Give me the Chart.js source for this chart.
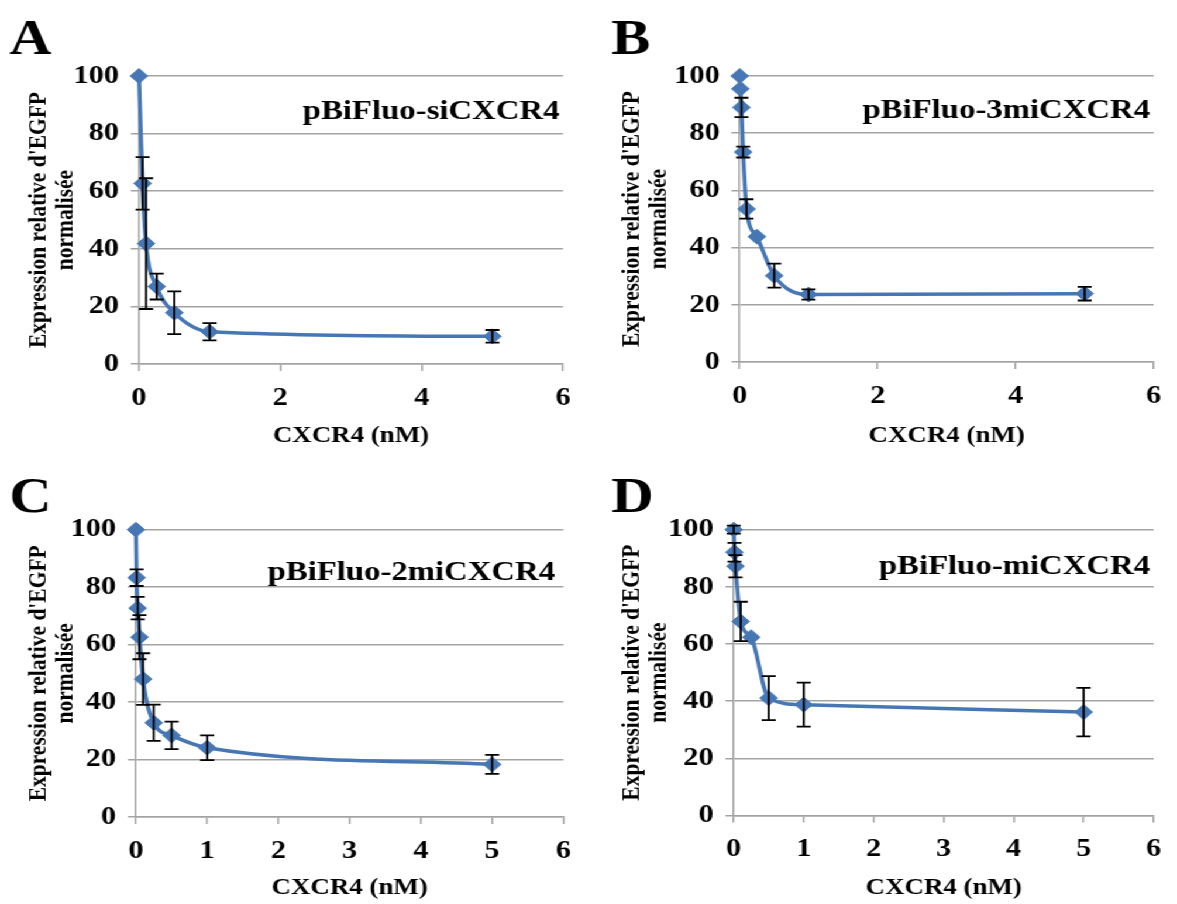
<!DOCTYPE html>
<html><head><meta charset="utf-8">
<script src="https://cdn.jsdelivr.net/npm/chart.js@4.4.1/dist/chart.umd.min.js"></script>
<style>
html,body{margin:0;padding:0;background:#fff;overflow:hidden;width:1177px;height:904px;}
#wrap{position:absolute;left:0;top:0;width:1006px;height:904px;transform:scaleX(1.17);transform-origin:0 0;}
canvas{position:absolute;}
</style></head><body><div id="wrap">
<canvas id="cA" width="500" height="452" style="left:0px;top:0px"></canvas>
<canvas id="cB" width="500" height="452" style="left:504.27px;top:0px"></canvas>
<canvas id="cC" width="500" height="452" style="left:0px;top:452px"></canvas>
<canvas id="cD" width="500" height="452" style="left:504.27px;top:452px"></canvas>
</div>
<script>
// ---- data ----
const xTitle = 'CXCR4 (nM)';
const yTitle = ["Expression relative d'EGFP", 'normalisée'];
const yTicks = [0, 20, 40, 60, 80, 100];

const dosesA = [0, 0.05, 0.1, 0.25, 0.5, 1, 5];
const exprA  = [100, 62.7, 41.8, 26.9, 17.8, 11.2, 9.6];
const errA   = [0, 9.1, 22.7, 4.5, 7.4, 3.0, 2.2];

const dosesB = [0, 0.01, 0.025, 0.05, 0.1, 0.25, 0.5, 1, 5];
const exprB  = [100, 95.5, 89.0, 73.4, 53.5, 43.8, 30.2, 23.6, 23.9];
const errB   = [0, 0, 3.4, 1.9, 3.4, 0, 4.2, 1.8, 2.4];

const dosesC = [0, 0.01, 0.025, 0.05, 0.1, 0.25, 0.5, 1, 5];
const exprC  = [100, 83.3, 72.7, 62.6, 48.0, 32.8, 28.4, 24.1, 18.3];
const errC   = [0, 2.9, 3.9, 7.7, 9.0, 6.3, 4.8, 4.3, 3.3];

const dosesD = [0, 0.01, 0.025, 0.1, 0.25, 0.5, 1, 5];
const exprD  = [100, 92.1, 87.2, 67.9, 62.4, 41.1, 38.8, 36.2];
const errD   = [1.4, 3.3, 3.9, 6.9, 0, 7.7, 7.7, 8.5];

// ---- styling ----
const FAM = '"Liberation Serif", "Times New Roman", serif';
const BLUE = '#4677B4';
const GRID = '#A3A3A3';

const annot = {
  id: 'annot',
  afterDatasetsDraw(chart, args, o) {
    const ctx = chart.ctx, xs = chart.scales.x, ys = chart.scales.y;
    const ds = chart.data.datasets[0];
    ctx.save();
    ctx.strokeStyle = '#000';
    ctx.lineWidth = 1.8;
    ds.data.forEach((p, i) => {
      const e = o.err[i];
      if (!e) return;
      const px = xs.getPixelForValue(p.x);
      const y1 = ys.getPixelForValue(p.y + e), y2 = ys.getPixelForValue(p.y - e);
      ctx.beginPath();
      ctx.moveTo(px, y1); ctx.lineTo(px, y2);
      ctx.moveTo(px - 6, y1); ctx.lineTo(px + 6, y1);
      ctx.moveTo(px - 6, y2); ctx.lineTo(px + 6, y2);
      ctx.stroke();
    });
    ctx.fillStyle = '#000';
    ctx.font = 'bold 28px ' + FAM;
    ctx.textAlign = 'right';
    ctx.textBaseline = 'alphabetic';
    ctx.fillText(o.title, chart.chartArea.right - o.tdx, chart.chartArea.top + o.tdy);
    ctx.font = 'bold 50px ' + FAM;
    ctx.textAlign = 'left';
    ctx.fillText(o.letter, o.lx, o.ly);
    ctx.restore();
  }
};

function makeChart(id, doses, vals, errs, xStep, P) {
  new Chart(document.getElementById(id), {
    type: 'line',
    data: {
      datasets: [{
        data: doses.map((d, i) => ({ x: d, y: vals[i] })),
        borderColor: BLUE, backgroundColor: BLUE, borderWidth: 3.5,
        pointStyle: 'rectRot', pointRadius: 7.5, pointBorderWidth: 1,
        pointBackgroundColor: BLUE, pointBorderColor: BLUE,
        cubicInterpolationMode: 'monotone', clip: false
      }]
    },
    options: {
      responsive: false, animation: false, devicePixelRatio: 1,
      layout: { padding: { left: 0, right: P.padR, top: P.top, bottom: 0 } },
      plugins: {
        legend: { display: false }, tooltip: { enabled: false },
        annot: { err: errs, title: P.title, tdx: P.tdx, tdy: P.tdy, letter: P.letter, lx: P.lx, ly: P.ly }
      },
      scales: {
        x: {
          type: 'linear', min: 0, max: 6,
          ticks: { stepSize: xStep, color: '#000', padding: 11.5, font: { family: FAM, size: 26, weight: 'bold' } },
          grid: { drawOnChartArea: false, drawTicks: true, tickLength: 7, color: GRID, lineWidth: 1.5 },
          border: { color: GRID, width: 1.5 },
          title: { display: true, text: xTitle, color: '#000', font: { family: FAM, size: 23, weight: 'bold' }, padding: { top: 0, bottom: P.xtPad } },
          afterFit: s => { s.height = 452 - P.bottom; }
        },
        y: {
          min: 0, max: 100,
          afterBuildTicks: s => { s.ticks = yTicks.map(v => ({ value: v })); },
          ticks: { color: '#000', padding: 10, font: { family: FAM, size: 26, weight: 'bold' } },
          grid: { drawTicks: true, tickLength: 7, color: GRID, lineWidth: 1.5 },
          border: { color: GRID, width: 1.5 },
          title: { display: true, text: yTitle, color: '#000', font: { family: FAM, size: 21.5, weight: 'bold', lineHeight: 1.06 }, padding: { top: P.ytPad, bottom: 0 } },
          afterFit: s => { s.width = P.left; }
        }
      }
    },
    plugins: [annot]
  });
}

makeChart('cA', dosesA, exprA, errA, 2, { left: 118.8, padR: 18.8, top: 76, bottom: 364, xtPad: 2, ytPad: 22.5, title: 'pBiFluo-siCXCR4', tdx: 3, tdy: 43, letter: 'A', lx: 8, ly: 54 });
makeChart('cB', dosesB, exprB, errB, 2, { left: 128.2, padR: 9.4, top: 76, bottom: 362, xtPad: 2, ytPad: 25, title: 'pBiFluo-3miCXCR4', tdx: 3, tdy: 42, letter: 'B', lx: 18.5, ly: 54 });
makeChart('cC', dosesC, exprC, errC, 1, { left: 116.2, padR: 18.5, top: 77.7, bottom: 365, xtPad: 2, ytPad: 22.5, title: 'pBiFluo-2miCXCR4', tdx: 7, tdy: 50, letter: 'C', lx: 8, ly: 60 });
makeChart('cD', dosesD, exprD, errD, 1, { left: 123.1, padR: 12.8, top: 77.7, bottom: 363.6, xtPad: 2, ytPad: 25, title: 'pBiFluo-miCXCR4', tdx: 3, tdy: 44, letter: 'D', lx: 18.5, ly: 60 });
</script>
</body></html>
